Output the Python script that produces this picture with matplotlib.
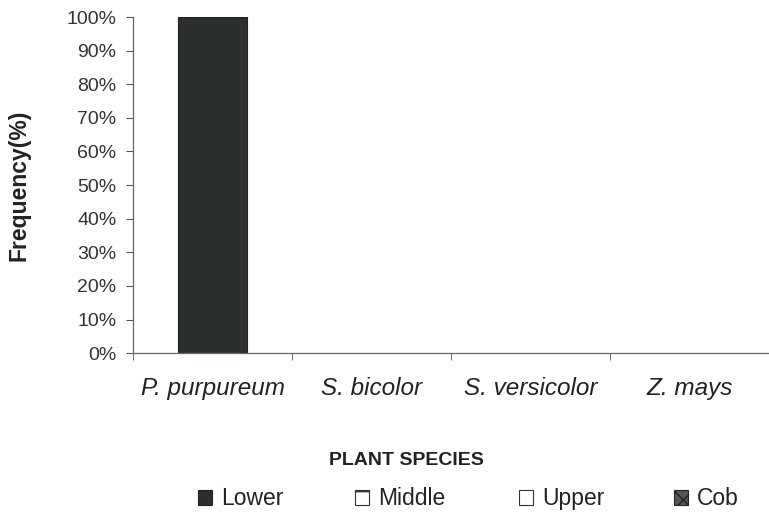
import matplotlib
matplotlib.use("Agg")
import matplotlib.pyplot as plt
from matplotlib.patches import Patch
from matplotlib.ticker import FixedLocator, NullFormatter, PercentFormatter
import numpy as np

categories = ["P. purpureum", "S. bicolor", "S. versicolor", "Z. mays"]
series_names = ["Lower", "Middle", "Upper", "Cob"]
lower = [100, 0, 0, 0]
middle = [0, 0, 0, 0]
upper = [0, 0, 0, 0]
cob = [0, 0, 0, 0]
yticks = [0, 10, 20, 30, 40, 50, 60, 70, 80, 90, 100]

plt.rcParams['font.family'] = ['Liberation Sans', 'DejaVu Sans']

fig = plt.figure(figsize=(7.69, 5.17), dpi=100)
ax = fig.add_axes([0.173, 0.317, 0.827, 0.650])

x = np.arange(len(categories))
w = 0.435
styles = [
    dict(facecolor="#2b302d", edgecolor="#1e221f", hatch=None),
    dict(facecolor="white", edgecolor="#333333", hatch="-"),
    dict(facecolor="white", edgecolor="#333333", hatch=None),
    dict(facecolor="#555555", edgecolor="#222222", hatch="xx"),
]
bottom = np.zeros(len(categories))
for vals, st in zip([lower, middle, upper, cob], styles):
    v = np.array(vals, dtype=float)
    nz = v > 0
    if nz.any():
        ax.bar(x[nz], v[nz], w, bottom=bottom[nz], linewidth=0.8, **st)
    bottom += v

ax.set_xlim(-0.5, 3.5)
ax.set_ylim(0, 100)
ax.set_yticks(yticks)
ax.yaxis.set_major_formatter(PercentFormatter(decimals=0))
ax.set_xticks(x)
ax.set_xticklabels(categories, fontsize=17.5, style="italic", color="#222222")
ax.xaxis.set_minor_locator(FixedLocator(np.arange(-0.5, 3.6, 1.0)))
ax.xaxis.set_minor_formatter(NullFormatter())
ax.tick_params(axis="x", which="major", length=0, pad=17)
ax.tick_params(axis="x", which="minor", length=5, color="#555555", direction="out")
ax.tick_params(axis="y", length=5, color="#555555", labelsize=14, labelcolor="#333333", pad=7)

for s in ["top", "right"]:
    ax.spines[s].set_visible(False)
ax.spines["left"].set_color("#666666")
ax.spines["bottom"].set_color("#666666")
ax.spines["left"].set_linewidth(0.9)
ax.spines["bottom"].set_linewidth(0.9)

ax.set_ylabel("Frequency(%)", fontsize=16.5, fontweight="bold", color="#222222", labelpad=26)
fig.text(0.528, 0.110, "PLANT SPECIES", ha="center", va="center", fontsize=14,
         fontweight="bold", color="#222222", transform=fig.transFigure)

handles = [Patch(linewidth=0.8, **st) for st in styles]
leg_x = [198, 355, 519, 674]
for h, name, lx in zip(handles, series_names, leg_x):
    leg = fig.legend([h], [name], loc="center left",
                     bbox_to_anchor=(lx / 769, 0.035), frameon=False, fontsize=16.5,
                     handlelength=0.6, handleheight=0.6, handletextpad=0.4,
                     borderpad=0, borderaxespad=0)
    for t in leg.get_texts():
        t.set_color("#222222")

fig.savefig("out.png", dpi=100)
